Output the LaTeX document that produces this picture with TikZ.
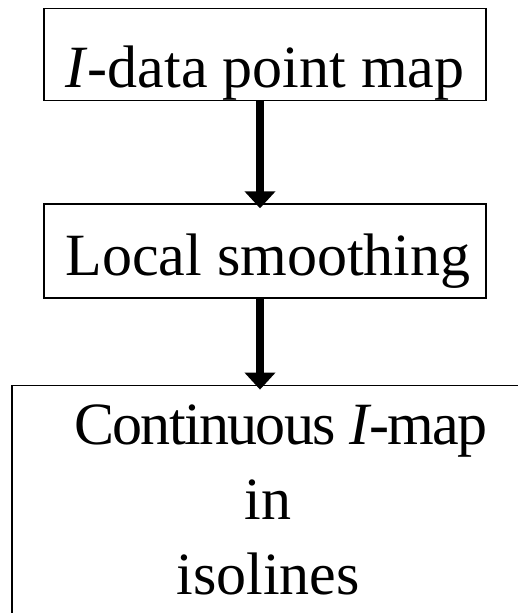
\documentclass[tikz,border=0pt]{standalone}
\usepackage{fontspec}
\setmainfont{Liberation Serif}
\usepackage{tikz}
\usetikzlibrary{positioning,arrows.meta}
\tikzset{
  flow-box/.style={draw=black,line width=1.3pt,minimum width=442pt,
    inner xsep=0pt,inner ysep=0pt,align=center,
    font=\fontsize{60}{75}\selectfont},
  arrow-flow/.style={-{Triangle[length=17pt,width=30pt]},line width=8pt,
    draw=black,shorten >=-5pt},
}

\begin{document}
\begin{tikzpicture}[x=1pt,y=1pt]
  \useasboundingbox (0,0) rectangle (518,-613);
  \clip (0,0) rectangle (518,-613);
  \node[flow-box,anchor=north,text height=79pt,text depth=13pt] (pts) at (265,-8)
    {\textit{I}-data point map};
  \node[flow-box,below=102pt of pts,text height=72pt,text depth=22pt] (smooth)
    {\hspace*{6pt}Local smoothing};
  % last line sits on the baseline: push the box far below the page
  \node[flow-box,below=86pt of smooth,xshift=3pt,minimum width=512pt,
    text height=209pt,text depth=60pt] (cont)
    {\hspace*{26pt}{\addfontfeature{LetterSpace=-2.8}Continuous \textit{I}-map}\\in\\isolines};

  \draw[arrow-flow] ([xshift=-5pt]pts.south) -- ([xshift=-5pt]smooth.north);
  \draw[arrow-flow] ([xshift=-5pt]smooth.south) -- ([xshift=-8pt]cont.north);
\end{tikzpicture}
\end{document}
